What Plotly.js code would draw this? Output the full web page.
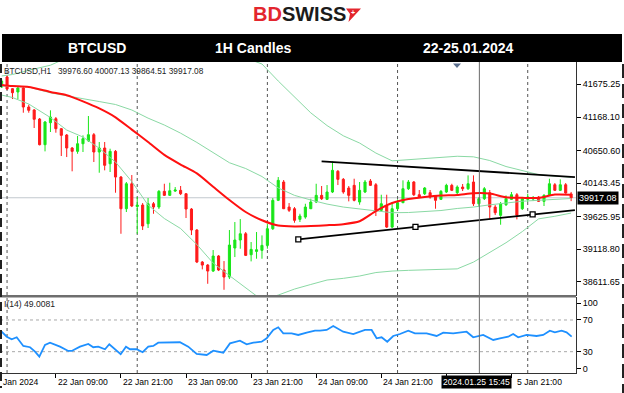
<!DOCTYPE html>
<html><head><meta charset="utf-8">
<script src="https://cdn.plot.ly/plotly-3.0.1.min.js"></script>
<style>html,body{margin:0;padding:0;background:#fff;}#chart{width:624px;height:393px;}</style>
</head><body><div id="chart"></div>
<script>
// ---------- data ----------
const firstCandle = '2024-01-21 23:00'; // hourly candles from here
const candleOpen = [41633,41788,41607,41556,41618,41323,41277,41137,40739,41080,41142,40987,40889,40688,40636,40754,40801,40894,40626,40688,40444,40636,40238,39747,40134,39781,39804,39514,39824,39773,40016,39954,40021,40032,39979,39742,39417,38921,38874,38781,39014,38797,38688,39138,39262,39359,39034,39086,39102,39179,39437,39877,40161,39773,39747,39582,39618,39747,39851,39954,39892,40006,40327,40202,40068,40109,39851,40006,40176,40119,39722,39789,39463,39747,39840,40057,40161,39964,39979,39995,39944,39892,40006,40109,39995,40083,40057,40161,39824,39902,39995,39773,39644,39809,39892,39964,39747,39892,39897,39928,39861,39954,40119,40032,40119,39976.60];
const candleHigh = [41757,41819,41618,41633,41633,41359,41292,41153,41106,41272,41168,40998,40905,40703,40874,40884,41184,40920,40781,40781,40677,40657,40254,40161,40269,39928,39835,39913,39851,40037,40134,40150,40083,40099,39990,39758,39432,38936,38890,39107,39029,38936,39417,39541,39587,39386,39231,39386,39334,39514,39913,40238,40192,39835,39773,39669,39824,39902,40134,40099,40114,40481,40347,40223,40099,40212,40161,40192,40207,40145,39964,39964,39851,39892,40187,40192,40176,40037,40083,40037,39959,40037,40134,40134,40109,40130,40264,40264,39928,40083,40037,39804,39851,39954,40006,39990,39928,39979,39944,39944,39974,40212,40145,40202,40145,40007.13];
const candleLow = [41618,41587,41447,41447,41235,41235,40998,40729,40636,40936,40925,40564,40548,40327,40599,40626,40781,40471,40305,40342,40316,39995,39359,39696,39773,39359,39417,39448,39669,39742,39944,39944,40006,39959,39603,39339,38905,38807,38584,38766,38781,38491,38657,38998,39127,39014,38931,38972,38972,39127,39417,39866,39742,39696,39530,39541,39592,39742,39835,39882,39882,39990,40114,39979,39861,39861,39809,39990,40099,39634,39711,39448,39448,39727,39835,40037,39944,39913,39959,39902,39747,39882,39990,40021,39974,40021,40037,39789,39773,39882,39592,39649,39499,39789,39882,39582,39727,39851,39866,39851,39789,39944,40021,40021,39980,39864.51];
const candleClose = [41726,41602,41545,41618,41323,41272,41133,40739,41091,41168,40987,40884,40688,40636,40754,40832,40894,40626,40688,40420,40636,40238,39747,40134,39789,39804,39479,39824,39773,40016,39954,40026,40037,39979,39742,39417,38921,38874,38781,39014,38797,38688,39184,39262,39359,39024,39117,39111,39179,39437,39877,40187,39747,39722,39567,39634,39773,39851,39954,39902,40006,40342,40202,40006,39954,39877,40032,40161,40109,39722,39824,39463,39747,39840,40057,40161,39964,39928,40068,39928,39877,40016,40109,40032,40083,40057,40134,39824,39902,40057,39773,39685,39824,39902,39964,39644,39902,39928,39920,39861,39954,40134,40032,40119,39990,39917.08];

// indicator lines, read at these candle offsets (hours after first candle)
const indicatorHours = [0,2,5,9,12,15,18,21,24,27,30,33,36,39,42,45,48,51,54,57,60,63,66,69,72,75,78,81,84,87,90,93,96,99,102,105];
const maRed    = [41664,41647,41633,41556,41506,41411,41301,41163,40973,40781,40582,40432,40294,40088,39882,39696,39568,39486,39472,39478,39491,39508,39553,39711,39835,39897,39928,39951,39961,39987,39982,39925,39916,39913,39967,39965];
const bbUpper  = [41804,41827,41892,41971,42083,42206,42284,42362,42408,42439,42439,42408,42362,42300,42206,42083,41990,41726,41486,41233,41036,40877,40765,40610,40489,40508,40525,40540,40560,40551,40494,40401,40339,40275,40252,40235];
const bbMiddle = [41649,41642,41633,41543,41494,41452,41408,41362,41277,41151,41044,40918,40774,40621,40460,40370,40246,40069,39954,39882,39819,39773,39740,39711,39685,39688,39702,39719,39751,39773,39807,39837,39863,39878,39892,39905];
const bbLower  = [41509,41470,41370,41160,40966,40858,40684,40470,40168,39804,39595,39440,39192,38905,38711,38518,38332,38409,38502,38573,38642,38668,38704,38758,38781,38792,38800,38807,38815,38920,39075,39220,39393,39590,39630,39680];

const rsiHours = [0,0.94,1.86,2.78,4,5.24,6.16,6.95,8,8.92,10.76,12.29,12.92,14.45,15.98,16.9,17.82,19.06,19.85,20.9,21.95,22.93,23.67,24.9,26,27.04,27.96,28.88,31.04,32.88,34.41,35.96,37.81,39.02,40.87,42.1,43.94,45.18,46.4,47.94,48.87,50.08,51,51.93,53.47,54.69,56.24,57.77,58.69,59.93,61.14,62.98,64.83,66.99,68.22,69.14,70.06,71.1,72.2,73.44,74.97,76.2,78.36,80.2,81.42,83.26,85.73,86.95,88.79,90.64,91.87,93.4,94.32,95.24,96.79,98.63,99.85,101.08,102,103.24,104.16,105.1];
const rsiValues = [55.2,48.9,45.6,48.2,37.2,35.6,30.0,23.7,38.5,41.4,36.3,30.9,30.9,36.3,39.8,35.6,36.3,33.1,39.4,33.1,26.8,36.3,33.1,33.1,29.3,36.3,37.2,41.4,41.9,41.9,36.3,27.1,25.8,31.2,28.7,40.5,43.8,39.3,41.4,42.6,46.9,57.4,60.8,53.2,53.2,51.1,54.0,56.5,56.5,57.4,62.4,55.2,52.3,57.4,57.4,46.9,48.2,42.6,49.8,52.3,56.5,53.2,53.2,49.8,54.0,53.2,55.2,48.2,51.1,44.8,46.9,48.9,52.3,48.2,51.1,49.8,51.1,56.5,54.5,56.5,54.5,49.0081];

const trendUpperHours = [59.0, 105.7], trendUpperPrices = [40481, 40238];
const trendLowerHours = [54.7, 105.7], trendLowerPrices = [39272, 39726];
const anchorHours = [54.7, 76.3, 97.9], anchorPrices = [39272, 39466, 39660];

const priceTicks = [38611.65, 39118.80, 39625.95, 40143.45, 40650.60, 41168.10, 41675.25];
const lastPrice = 39917.08;
const rsiTickVals = [91.1, 70, 30, 8.2];
const rsiTickText = ['100', '70', '30', '0'];
const xTickTimes = ['2024-01-22 09:00','2024-01-22 21:00','2024-01-23 09:00','2024-01-23 21:00','2024-01-24 09:00','2024-01-24 21:00','2024-01-25 09:00','2024-01-25 21:00'];
// the 25 Jan 09:00 label is hidden under the crosshair box in the reference
const xLabelTimes = ['2024-01-22 09:00','2024-01-22 21:00','2024-01-23 09:00','2024-01-23 21:00','2024-01-24 09:00','2024-01-24 21:00','2024-01-25 21:00'];
const xLabels = ['22 Jan 09:00','22 Jan 21:00','23 Jan 09:00','23 Jan 21:00','24 Jan 09:00','24 Jan 21:00','5 Jan 21:00'];
const daySeparators = ['2024-01-22','2024-01-23','2024-01-24','2024-01-25','2024-01-26'];
const crosshairTime = '2024-01-25 15:05';
const crosshairLabel = '2024.01.25 15:45';
const headerTexts = ['BTCUSD', '1H Candles', '22-25.01.2024'];
const infoText = 'BTCUSD,H1   39976.60 40007.13 39864.51 39917.08';
const rsiText = 'I(14) 49.0081';

// ---------- helpers ----------
const base = Date.parse(firstCandle.replace(' ', 'T') + ':00Z');
function t(h) {
  const d = new Date(base + h * 3600000);
  const p = n => String(n).padStart(2, '0');
  return d.getUTCFullYear() + '-' + p(d.getUTCMonth() + 1) + '-' + p(d.getUTCDate()) + ' ' +
         p(d.getUTCHours()) + ':' + p(d.getUTCMinutes()) + ':' + p(d.getUTCSeconds());
}
const W = 624, H = 393;
const px = x => x / W;
const py = y => 1 - y / H;
const FONT = 'Liberation Sans, Arial, sans-serif';

const candleTimes = candleOpen.map((_, i) => t(i));
const indTimes = indicatorHours.map(t);

const bandLine = {color: '#8ad9a4', width: 1};
const traces = [
  {type: 'scatter', mode: 'lines', x: indTimes, y: bbUpper, line: bandLine, xaxis: 'x', yaxis: 'y', hoverinfo: 'skip'},
  {type: 'scatter', mode: 'lines', x: indTimes, y: bbMiddle, line: bandLine, xaxis: 'x', yaxis: 'y', hoverinfo: 'skip'},
  {type: 'scatter', mode: 'lines', x: indTimes, y: bbLower, line: bandLine, xaxis: 'x', yaxis: 'y', hoverinfo: 'skip'},
  {type: 'candlestick', x: candleTimes, open: candleOpen, high: candleHigh, low: candleLow, close: candleClose,
   xaxis: 'x', yaxis: 'y', line: {width: 1}, whiskerwidth: 0,
   increasing: {line: {color: '#19e619', width: 1}, fillcolor: '#19e619'},
   decreasing: {line: {color: '#ff1a1a', width: 1}, fillcolor: '#ff1a1a'}, hoverinfo: 'skip'},
  {type: 'scatter', mode: 'lines', x: indTimes, y: maRed, line: {color: '#ff1010', width: 2, shape: 'spline', smoothing: 0.6}, xaxis: 'x', yaxis: 'y', hoverinfo: 'skip'},
  {type: 'scatter', mode: 'lines', x: trendUpperHours.map(t), y: trendUpperPrices, line: {color: '#000', width: 1.8}, xaxis: 'x', yaxis: 'y', hoverinfo: 'skip'},
  {type: 'scatter', mode: 'lines', x: trendLowerHours.map(t), y: trendLowerPrices, line: {color: '#000', width: 1.8}, xaxis: 'x', yaxis: 'y', hoverinfo: 'skip'},
  {type: 'scatter', mode: 'markers', x: anchorHours.map(t), y: anchorPrices, marker: {symbol: 'square', size: 5, color: '#fff', line: {color: '#000', width: 1.3}}, xaxis: 'x', yaxis: 'y', hoverinfo: 'skip'},
  {type: 'scatter', mode: 'lines', x: rsiHours.map(t), y: rsiValues, line: {color: '#1e90ff', width: 1.8}, xaxis: 'x', yaxis: 'y2', hoverinfo: 'skip'}
];

const shapes = [
  {type: 'rect', xref: 'paper', yref: 'paper', x0: px(2), x1: px(622), y0: py(62), y1: py(34), fillcolor: '#000', line: {width: 0}, layer: 'above'},
  {type: 'line', xref: 'paper', yref: 'y', x0: 0, x1: px(576), y0: lastPrice, y1: lastPrice, line: {color: '#c2c8ce', width: 1}, layer: 'below'},
  {type: 'line', xref: 'paper', yref: 'y2', x0: 0, x1: px(576), y0: 70, y1: 70, line: {color: '#a8a8a8', width: 1, dash: 'dot'}, layer: 'below'},
  {type: 'line', xref: 'paper', yref: 'y2', x0: 0, x1: px(576), y0: 30, y1: 30, line: {color: '#a8a8a8', width: 1, dash: 'dot'}, layer: 'below'},
  {type: 'line', xref: 'x', yref: 'paper', x0: crosshairTime, x1: crosshairTime, y0: py(373), y1: py(62), line: {color: '#6a6a6a', width: 1}},
  {type: 'line', xref: 'paper', yref: 'paper', x0: 0, x1: px(576), y0: py(296.3), y1: py(296.3), line: {color: '#6e6e6e', width: 2.5}},
  {type: 'line', xref: 'paper', yref: 'paper', x0: px(1), x1: px(1), y0: py(64), y1: py(388), line: {color: '#222', width: 2, dash: '9px,5px'}},
  {type: 'line', xref: 'paper', yref: 'paper', x0: px(623), x1: px(623), y0: py(64), y1: py(393), line: {color: '#222', width: 2, dash: '14px,6px'}},
  {type: 'path', xref: 'paper', yref: 'paper', path: `M${px(453)},${py(63.5)} L${px(461)},${py(63.5)} L${px(457)},${py(68)} Z`, fillcolor: '#5b6f8e', line: {width: 0}},
  {type: 'path', xref: 'paper', yref: 'paper', path: `M${px(346)},${py(8.5)} L${px(361)},${py(8.5)} L${px(348.5)},${py(22)} L${px(350)},${py(14)} Z`, fillcolor: '#e3262e', line: {width: 0}}
];
daySeparators.forEach(d => shapes.push({type: 'line', xref: 'x', yref: 'paper', x0: d, x1: d, y0: py(373), y1: py(62), line: {color: '#555', width: 1, dash: 'dot'}, layer: 'below'}));

const tickFont = {family: FONT, size: 9, color: '#000'};
const annotations = [
  {xref: 'paper', yref: 'paper', x: px(299), y: py(14.5), xanchor: 'center', yanchor: 'middle', showarrow: false,
   text: "<b><span style='color:#e3262e'>BD</span>SWISS</b>", font: {family: FONT, size: 20, color: '#1b1b1b'}},
  {xref: 'paper', yref: 'paper', x: px(352.5), y: py(12.5), xanchor: 'center', yanchor: 'middle', showarrow: false,
   text: '<b>+</b>', font: {family: FONT, size: 7, color: '#fff'}},
  {xref: 'paper', yref: 'paper', x: px(97), y: py(48), xanchor: 'center', yanchor: 'middle', showarrow: false, text: '<b>' + headerTexts[0] + '</b>', font: {family: FONT, size: 14, color: '#fff'}},
  {xref: 'paper', yref: 'paper', x: px(253), y: py(48), xanchor: 'center', yanchor: 'middle', showarrow: false, text: '<b>' + headerTexts[1] + '</b>', font: {family: FONT, size: 14, color: '#fff'}},
  {xref: 'paper', yref: 'paper', x: px(468), y: py(48), xanchor: 'center', yanchor: 'middle', showarrow: false, text: '<b>' + headerTexts[2] + '</b>', font: {family: FONT, size: 14, color: '#fff'}},
  {xref: 'paper', yref: 'paper', x: px(2), y: py(70.5), xanchor: 'left', yanchor: 'middle', showarrow: false, text: infoText.replace(/ /g, '&nbsp;'), font: {family: FONT, size: 8.3, color: '#222'}},
  {xref: 'paper', yref: 'paper', x: px(2), y: py(304), xanchor: 'left', yanchor: 'middle', showarrow: false, text: rsiText, font: {family: FONT, size: 8.6, color: '#222'}},
  {xref: 'paper', yref: 'paper', x: px(1), y: py(381.5), xanchor: 'left', yanchor: 'middle', showarrow: false, text: 'Jan 2024', font: {family: FONT, size: 8.6, color: '#000'}}
];
xLabelTimes.forEach((tm, i) => annotations.push({xref: 'x', yref: 'paper', x: tm, y: py(381.5), xanchor: 'left', yanchor: 'middle', showarrow: false,
  xshift: xLabels[i].length < 12 ? 4 : 0, text: xLabels[i], font: {family: FONT, size: 8.6, color: '#000'}}));
annotations.push({xref: 'x', yref: 'paper', x: crosshairTime, y: py(381.5), xanchor: 'center', yanchor: 'middle', xshift: -3, showarrow: false, text: crosshairLabel, bgcolor: '#000', borderpad: 1, font: {family: FONT, size: 8.6, color: '#fff'}});
annotations.push({xref: 'paper', yref: 'y', x: px(577), y: lastPrice, xanchor: 'left', yanchor: 'middle', showarrow: false, text: lastPrice.toFixed(2), bgcolor: '#000', borderpad: 1, font: {family: FONT, size: 9, color: '#fff'}});

const layout = {
  width: W, height: H, margin: {l: 0, r: 0, t: 0, b: 0},
  paper_bgcolor: '#fff', plot_bgcolor: '#fff', showlegend: false, hovermode: false, boxgap: 0.45,
  xaxis: {domain: [0, px(576)], type: 'date', range: [t(-0.3), t(105.9)], anchor: 'y2',
          showgrid: false, zeroline: false, showline: true, linecolor: '#333', linewidth: 1,
          tickvals: xTickTimes, ticks: 'outside', ticklen: 4, tickcolor: '#000', showticklabels: false,
          rangeslider: {visible: false}, fixedrange: true},
  yaxis: {domain: [py(296), py(62)], range: [38394.5, 42020.8], side: 'right', anchor: 'x',
          tickvals: priceTicks, ticktext: priceTicks.map(v => v.toFixed(2)), ticks: 'outside', ticklen: 4, tickcolor: '#000',
          showline: true, linecolor: '#333', linewidth: 1, showgrid: false, zeroline: false, tickfont: tickFont, fixedrange: true},
  yaxis2: {domain: [py(373), py(297)], range: [3.1, 99.0], side: 'right', anchor: 'x',
           tickvals: rsiTickVals, ticktext: rsiTickText, ticks: 'outside', ticklen: 4, tickcolor: '#000',
           showline: true, linecolor: '#333', linewidth: 1, showgrid: false, zeroline: false, tickfont: tickFont, fixedrange: true},
  shapes: shapes, annotations: annotations
};

Plotly.newPlot('chart', traces, layout, {staticPlot: true, displayModeBar: false});
</script>
</body></html>
